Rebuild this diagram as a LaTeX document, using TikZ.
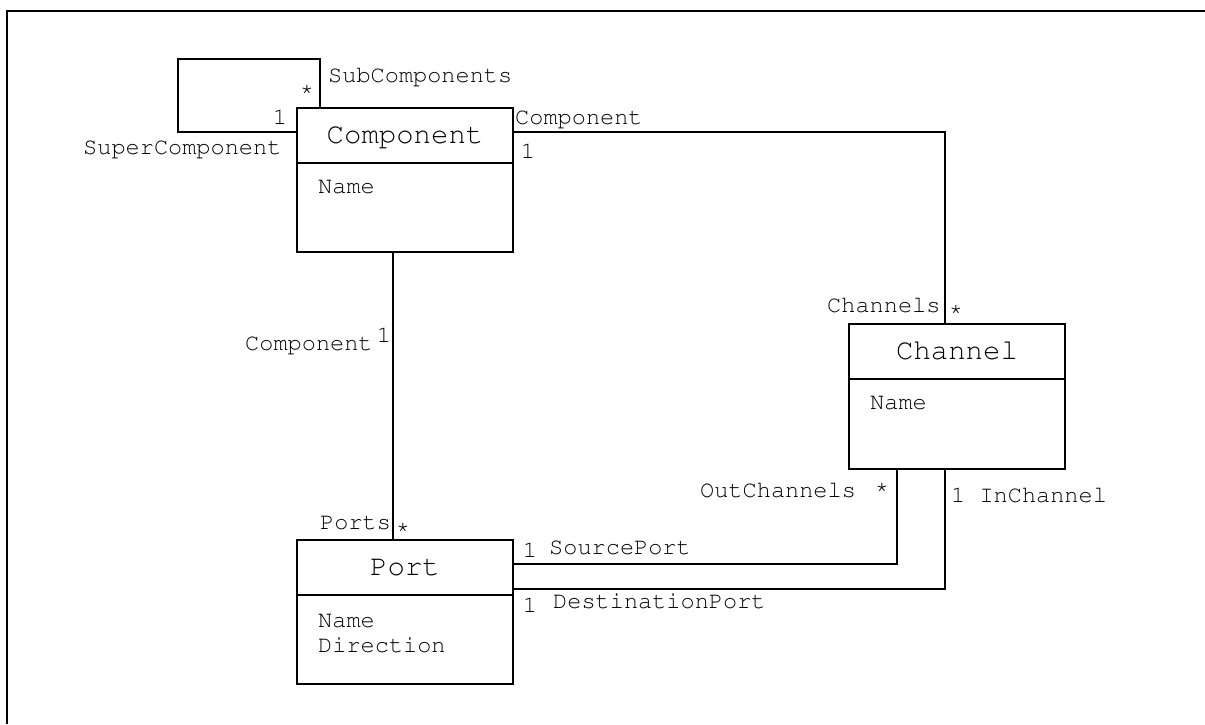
\documentclass[tikz,border=0pt]{standalone}
\usepackage[T1]{fontenc}
\usetikzlibrary{calc}
\newcommand{\umlmono}{\fontencoding{T1}\fontfamily{pcr}\fontseries{m}\fontshape{n}}

\tikzset{
  titlebox/.style={draw, line width=2.4pt, minimum width=216pt, inner sep=0pt,
    text height=35pt, text depth=20pt, font=\umlmono\fontsize{29}{31}\selectfont},
  attrbox/.style={draw, line width=2.4pt, minimum width=216pt, inner sep=0pt},
  conn/.style={line width=2pt},
  frameline/.style={line width=2.3pt},
  lbl/.style={font=\umlmono\fontsize{23.6}{25}\selectfont, inner sep=0pt, anchor=base west},
  mult/.style={font=\umlmono\fontsize{23.6}{25}\selectfont, inner sep=0pt, anchor=base}
}

\begin{document}
\begin{tikzpicture}[x=1pt, y=-1pt]
  \useasboundingbox (0,0) rectangle (1205,724);

  % outer frame (top and left edges)
  \draw[frameline] (7,724) -- (7,10.7) -- (1205,10.7);

  % Component class
  \node[titlebox] (comp) at (405,135.5) {Component};
  \node[attrbox, minimum height=89pt] (compattr) at (405,207.5) {};
  \node[lbl] (compname) at (318,193) {Name};

  % Port class
  \node[titlebox] (port) at (405,567.5) {Port};
  \node[attrbox, minimum height=89pt] (portattr) at (405,639.5) {};
  \node[lbl] (portname) at (318,627) {Name};
  \node[lbl] (portdir) at (318,652) {Direction};

  % Channel class
  \node[titlebox] (chan) at (957,351.5) {Channel};
  \node[attrbox, minimum height=90pt] (chanattr) at (957,424) {};
  \node[lbl] (channame) at (870,409) {Name};

  % self association of Component
  \coordinate (loopcorner) at (178,59);
  \draw[conn] ($(comp.west)+(0,-3.5)$) -| (loopcorner) -| ($(comp.north west)+(24,0)$);
  \node[lbl] (subl) at (328,82) {SubComponents};
  \node[mult] (subm) at (307,95) {*};
  \node[mult] (supm) at (280,124) {1};
  \node[lbl] (supl) at (83,154) {SuperComponent};

  % Component -- Channel
  \draw[conn] ($(comp.east)+(0,-3.5)$) -| ($(chan.north)+(-12,0)$);
  \node[lbl] (ccl) at (515,124) {Component};
  \node[mult] (ccm) at (528,158) {1};
  \node[lbl] (chl) at (827,312) {Channels};
  \node[mult] (chm) at (956,315) {*};

  % Component -- Port
  \draw[conn] ($(compattr.south)+(-12,0)$) -- ($(port.north)+(-12,0)$);
  \node[lbl] (cpl) at (245,350) {Component};
  \node[mult] (cpm) at (384,342) {1};
  \node[lbl] (pl) at (320,529) {Ports};
  \node[mult] (pm) at (403,533.5) {*};

  % Channel -- Port (source)
  \draw[conn] ($(chanattr.south)+(-60,0)$) |- ($(port.east)+(0,-3.5)$);
  \node[lbl] (ocl) at (700,497) {OutChannels};
  \node[mult] (ocm) at (882,493) {*};
  \node[mult] (spm) at (530,557) {1};
  \node[lbl] (spl) at (549,554) {SourcePort};

  % Channel -- Port (destination)
  \draw[conn] ($(chanattr.south)+(-12,0)$) |- ($(port.south east)+(0,-7)$);
  \node[lbl] (icl) at (951,502) {1 InChannel};
  \node[mult] (dpm) at (530,612) {1};
  \node[lbl] (dpl) at (553,608) {DestinationPort};
\end{tikzpicture}
\end{document}
